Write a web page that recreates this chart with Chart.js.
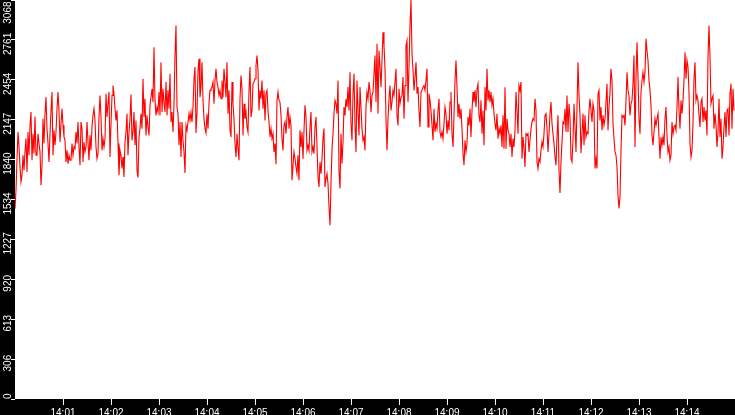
<!DOCTYPE html>
<html>
<head>
<meta charset="utf-8">
<script src="https://cdn.jsdelivr.net/npm/chart.js@4.4.1/dist/chart.umd.min.js"></script>
<style>
  html, body { margin: 0; padding: 0; background: #000; }
  #wrap { width: 735px; height: 415px; position: relative; }
</style>
</head>
<body>
<div id="wrap"><canvas id="rateChart"></canvas></div>
<script>
// one reading every 1.25 s, starting 14:00:00
const STEP = 1.25
const Y_MAX = 3068

const xTickLabels = ["14:01", "14:02", "14:03", "14:04", "14:05", "14:06", "14:07",
  "14:08", "14:09", "14:10", "14:11", "14:12", "14:13", "14:14"]
const yTickLabels = ["0", "306", "613", "920", "1227", "1534", "1840", "2147", "2454", "2761", "3068"]

// 14:00:00 - 14:01:52
const seg1 = [1465,1605,1848,2053,1938,1785,1669,1721,1874,1759,
  1900,2002,1746,2053,1874,2104,2206,1836,2040,1887,
  2173,1874,1874,2040,1964,1900,1644,1797,2155,1964,
  2194,2321,2079,1964,1823,2040,2219,2360,1874,2066,
  1951,2053,2232,2360,2219,1976,2117,2232,2104,2015,
  1989,1823,1912,1810,1874,1836,1836,1964,1874,1938,
  1925,2053,1964,2130,1938,1797,2130,2079,1823,1976,
  1900,1938,2130,1976,1836,2027,1912,2091,2181,2232,
  2142,1938,1848,1887,2168,2334,2168,1912,2002,1938]
// 14:01:52 - 14:03:45
const seg2 = [2002,2347,2168,2270,2360,1861,2117,2334,2411,2347,
  2232,2142,2219,1964,1721,1912,1874,1772,1861,1708,
  1976,2053,2194,1874,2053,2155,2342,1989,2053,2206,
  1951,2142,1759,1703,2015,2079,2194,2079,2462,2168,
  2309,2027,2181,2091,2027,2258,2321,2385,2283,2705,
  2296,2181,2245,2206,2360,2181,2590,2206,2385,2283,
  2206,2437,2181,2373,2232,2500,2130,2206,2053,2270,
  2641,2871,2245,2194,1951,2130,1861,2130,1989,1900,
  1738,2104,2066,2130,2194,2142,2206,2130,2245,2462]
// 14:03:45 - 14:05:37
const seg3 = [2552,2045,2199,2526,2616,2321,2398,2590,2296,2155,
  2079,2045,2194,2079,2270,2373,2385,2398,2437,2270,
  2449,2539,2437,2398,2334,2373,2309,2449,2321,2539,
  2437,2321,2590,2194,2373,2066,2015,2437,2270,2155,
  1964,1861,2040,1925,1836,2309,2488,2385,2027,2270,
  2155,2206,2091,2053,2373,2552,2168,2219,2424,2437,
  2462,2564,2641,2526,2219,2373,2309,2449,2232,2373,
  2142,2347,2373,2219,2130,2015,2079,2002,2040,1900,
  1964,1805,2296,2360,2296,2283,2181,2002,1912,2104]
// 14:05:37 - 14:07:30
const seg4 = [2130,2040,2168,2245,2079,2168,2104,1682,1797,1900,
  1848,1785,1733,1874,1682,2066,1938,2053,1848,2066,
  2258,2168,1912,1951,1912,2091,2206,1900,1938,1887,
  2091,2168,1938,1708,1631,1823,1733,1848,2002,2079,
  1631,1695,1733,1657,1478,1337,1657,1925,2040,2194,
  2296,2270,2194,2449,1746,1618,2040,1810,1976,2245,
  2181,2309,2245,2398,2219,2513,2117,1989,2347,2500,
  2117,1900,2449,2219,2027,2398,2245,2079,1989,2015,
  1912,2245,2360,2309,2437,2373,2206,2334,2360,2500]
// 14:07:30 - 14:09:22
const seg5 = [2641,2283,2731,2194,2679,2552,2398,2603,2820,2718,
  2539,2155,1912,2155,2309,2411,2219,2283,2373,2334,
  2437,2539,2181,2104,2385,2270,2321,2334,2475,2155,
  2411,2718,2756,2283,2552,2871,3068,2654,2526,2373,
  2475,2590,2347,2398,2219,2091,2360,2373,2398,2411,
  2373,2449,2539,2091,2347,2296,2219,2104,1989,2232,
  2053,2117,2079,2219,2309,2053,2015,2053,2002,2117,
  2245,2194,2040,2142,2066,2283,2360,2040,1938,2181,
  2449,2603,2398,2168,2270,2155,2232,2079,1887,1797]
// 14:09:22 - 14:11:15
const seg6 = [1989,1900,1964,2168,2104,2232,2015,2219,2360,2283,
  2373,2245,2385,2424,2181,2130,2296,2040,2219,1951,
  2398,2219,2539,2296,2373,2283,2360,2258,2309,2194,
  2117,2066,2194,2002,2079,2040,2104,1938,2181,1925,
  2398,1925,2155,2066,2040,1938,2040,1861,2002,1938,
  2066,2360,2219,2040,2411,2373,2437,1848,2015,1925,
  1785,2040,2027,2040,1900,1989,2079,2130,2155,2142,
  2309,2219,1823,1772,1848,1823,1912,1976,1938,2040,
  2181,2194,2079,1900,2040,2194,2283,2117,2040,1964]
// 14:11:15 - 14:13:07
const seg7 = [1861,1797,2015,2181,1759,1585,1823,1976,2130,2117,
  2232,2053,2334,2053,2270,2168,1848,1823,1989,2270,
  2091,1900,2245,2590,2334,2181,1892,2040,2194,1951,
  2181,2015,2053,2040,2219,2309,2219,2130,2270,2219,
  1772,1848,1772,2347,2373,2142,2245,2066,2181,2104,
  2155,2283,2424,2066,2245,2360,2539,2449,2117,2002,
  1900,1874,1785,1567,1465,1554,1912,2181,2168,2181,
  2104,2296,2513,2373,2334,2181,2270,2296,2424,2641,
  1938,2475,2743,2475,2155,2040,2360,2449,2513,2437]
// 14:13:07 - 14:15:00
const seg8 = [2513,2769,2679,2603,2449,2373,2258,2027,1951,2053,
  2155,2104,2155,2194,2015,1848,2015,1951,2015,1951,
  2155,2245,2027,1900,1938,1836,1874,2130,2040,2091,
  2104,2066,2245,2475,2219,2079,2296,2194,2296,2449,
  2667,2462,2603,2552,2360,1964,1861,1912,2117,2462,
  2590,2296,2334,2296,2181,2091,2283,2309,2130,2245,
  2142,2219,2027,2628,2871,2628,2270,2309,2334,2079,
  2194,2104,1938,2053,2309,2015,2155,1848,1938,2091,
  2206,2015,2219,2232,2027,2347,2424,2079,2385,2219]

const readings = [...seg1, ...seg2, ...seg3, ...seg4, ...seg5, ...seg6, ...seg7, ...seg8]
const points = readings.map((v, i) => ({ x: i * STEP, y: v }))

const FONT = "10px 'Liberation Sans', Arial, sans-serif"

// black frame, white plot area, and the rotated y labels
const framePlugin = {
  id: "frame",
  beforeDraw(chart) {
    const { ctx, chartArea: a } = chart
    ctx.save()
    ctx.fillStyle = "#000"
    ctx.fillRect(0, 0, chart.width, chart.height)
    ctx.fillStyle = "#fff"
    ctx.fillRect(a.left, a.top, a.right - a.left, a.bottom - a.top)
    ctx.restore()
  },
  afterDraw(chart) {
    const { ctx, chartArea: a } = chart
    const y = chart.scales.y
    ctx.save()
    ctx.font = FONT
    ctx.fillStyle = "#fff"
    ctx.textAlign = "center"
    ctx.textBaseline = "alphabetic"
    y.ticks.forEach((t, i) => {
      const label = yTickLabels[i]
      const half = ctx.measureText(label).width / 2
      let py = y.getPixelForValue(t.value) + 4
      py = Math.max(a.top + half + 1.5, Math.min(a.bottom - half, py))
      ctx.save()
      ctx.translate(10.5, py)
      ctx.rotate(-Math.PI / 2)
      ctx.fillText(label, 0, 0)
      ctx.restore()
    })
    ctx.restore()
  },
}

new Chart(document.getElementById("rateChart"), {
  type: "line",
  data: {
    datasets: [
      {
        data: points,
        borderColor: "#ff0000",
        borderWidth: 1.1,
        pointRadius: 0,
        tension: 0,
        fill: false,
      },
    ],
  },
  options: {
    responsive: true,
    maintainAspectRatio: false,
    animation: false,
    devicePixelRatio: 1,
    layout: { padding: 0 },
    plugins: {
      legend: { display: false },
      tooltip: { enabled: false },
    },
    scales: {
      x: {
        type: "linear",
        min: 0,
        max: 900,
        border: { display: false },
        grid: { drawOnChartArea: false, color: "#fff", tickLength: 6, tickWidth: 1 },
        afterBuildTicks: (s) => {
          s.ticks = xTickLabels.map((l, i) => ({ value: (i + 1) * 60 }))
        },
        afterFit: (s) => { s.height = 16 },
        ticks: {
          color: "#fff",
          font: { family: "'Liberation Sans', Arial, sans-serif", size: 10 },
          padding: 2,
          maxRotation: 0,
          autoSkip: false,
          callback: (v, i) => xTickLabels[i],
        },
      },
      y: {
        min: 0,
        max: Y_MAX,
        border: { display: false },
        grid: { drawOnChartArea: false, color: "#fff", tickLength: 4 },
        afterBuildTicks: (s) => {
          s.ticks = yTickLabels.map((l, i) => ({ value: (i * Y_MAX) / 10 }))
        },
        afterFit: (s) => { s.width = 15 },
        ticks: { display: false },
      },
    },
  },
  plugins: [framePlugin],
})
</script>
</body>
</html>
